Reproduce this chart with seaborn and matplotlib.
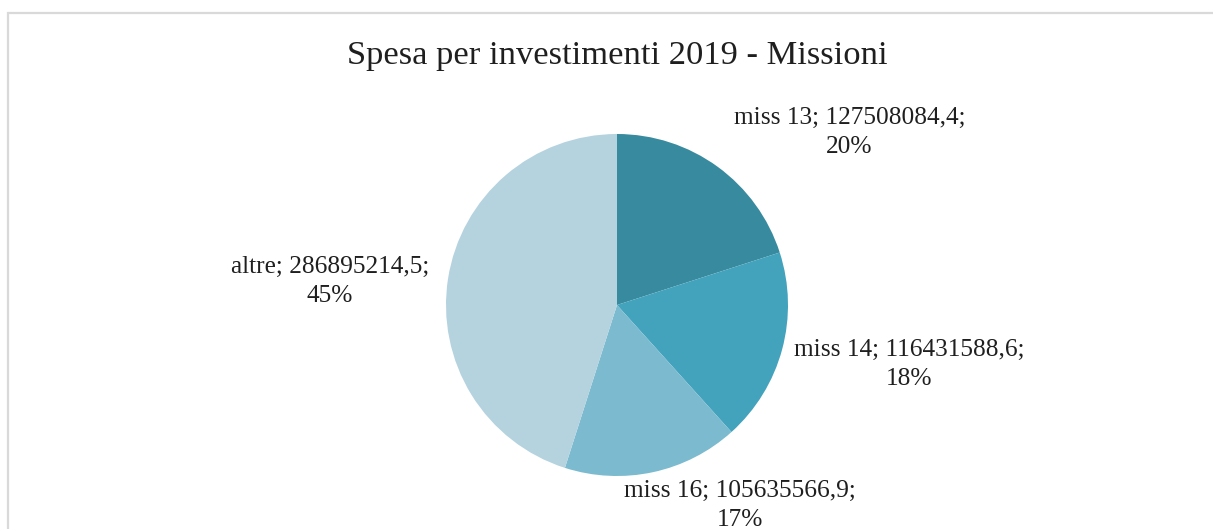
import matplotlib
matplotlib.use("Agg")
import matplotlib.pyplot as plt
from matplotlib.patches import Rectangle
import seaborn as sns

# Investment spending 2019 by mission
categories = ["miss 13", "miss 14", "miss 16", "altre"]
values = [127508084.4, 116431588.6, 105635566.9, 286895214.5]
value_labels = ["127508084,4", "116431588,6", "105635566,9", "286895214,5"]
colors = ["#388A9F", "#43A2BC", "#7BBACF", "#B4D3DF"]
title = "Spesa per investimenti 2019 - Missioni"

# label placement (offsets from pie centre, in pie radii)
label_offsets = [(1.36, 1.01), (1.71, -0.35), (0.72, -1.17), (-1.68, 0.14)]

sns.set_theme(style="white")
plt.rcParams["font.family"] = ["Liberation Serif", "DejaVu Serif"]

W, H = 1213, 529
fig = plt.figure(figsize=(W / 100, H / 100), dpi=100)
fig.patch.set_facecolor("white")

# chart frame
fig.patches.append(Rectangle((7.5 / W, -0.1), 1.2, 1 - 12.5 / H + 0.1,
                             transform=fig.transFigure, fill=False,
                             edgecolor="#D9D9D9", linewidth=1.6, zorder=0))

cx, cy, r = 617, 305, 171
ax = fig.add_axes([(cx - r) / W, 1 - (cy + r) / H, 2 * r / W, 2 * r / H])
wedges, _ = ax.pie(values, colors=colors, startangle=90, counterclock=False,
                   radius=1, wedgeprops=dict(linewidth=0))
ax.set_xlim(-1, 1)
ax.set_ylim(-1, 1)
ax.set_aspect("equal")
ax.axis("off")

total = sum(values)
for cat, v, vl, (dx, dy) in zip(categories, values, value_labels, label_offsets):
    pct = round(100 * v / total)
    ax.text(dx, dy, f"{cat}; {vl};\n{pct}%", ha="center", va="center",
            multialignment="center", fontsize=18.3, linespacing=1.42,
            color="#1F1F1F", clip_on=False)

fig.text(617 / W, 1 - 56 / H, title, ha="center", va="center",
         fontsize=24.8, color="#1F1F1F")

fig.savefig("out.png", dpi=100, facecolor="white")
